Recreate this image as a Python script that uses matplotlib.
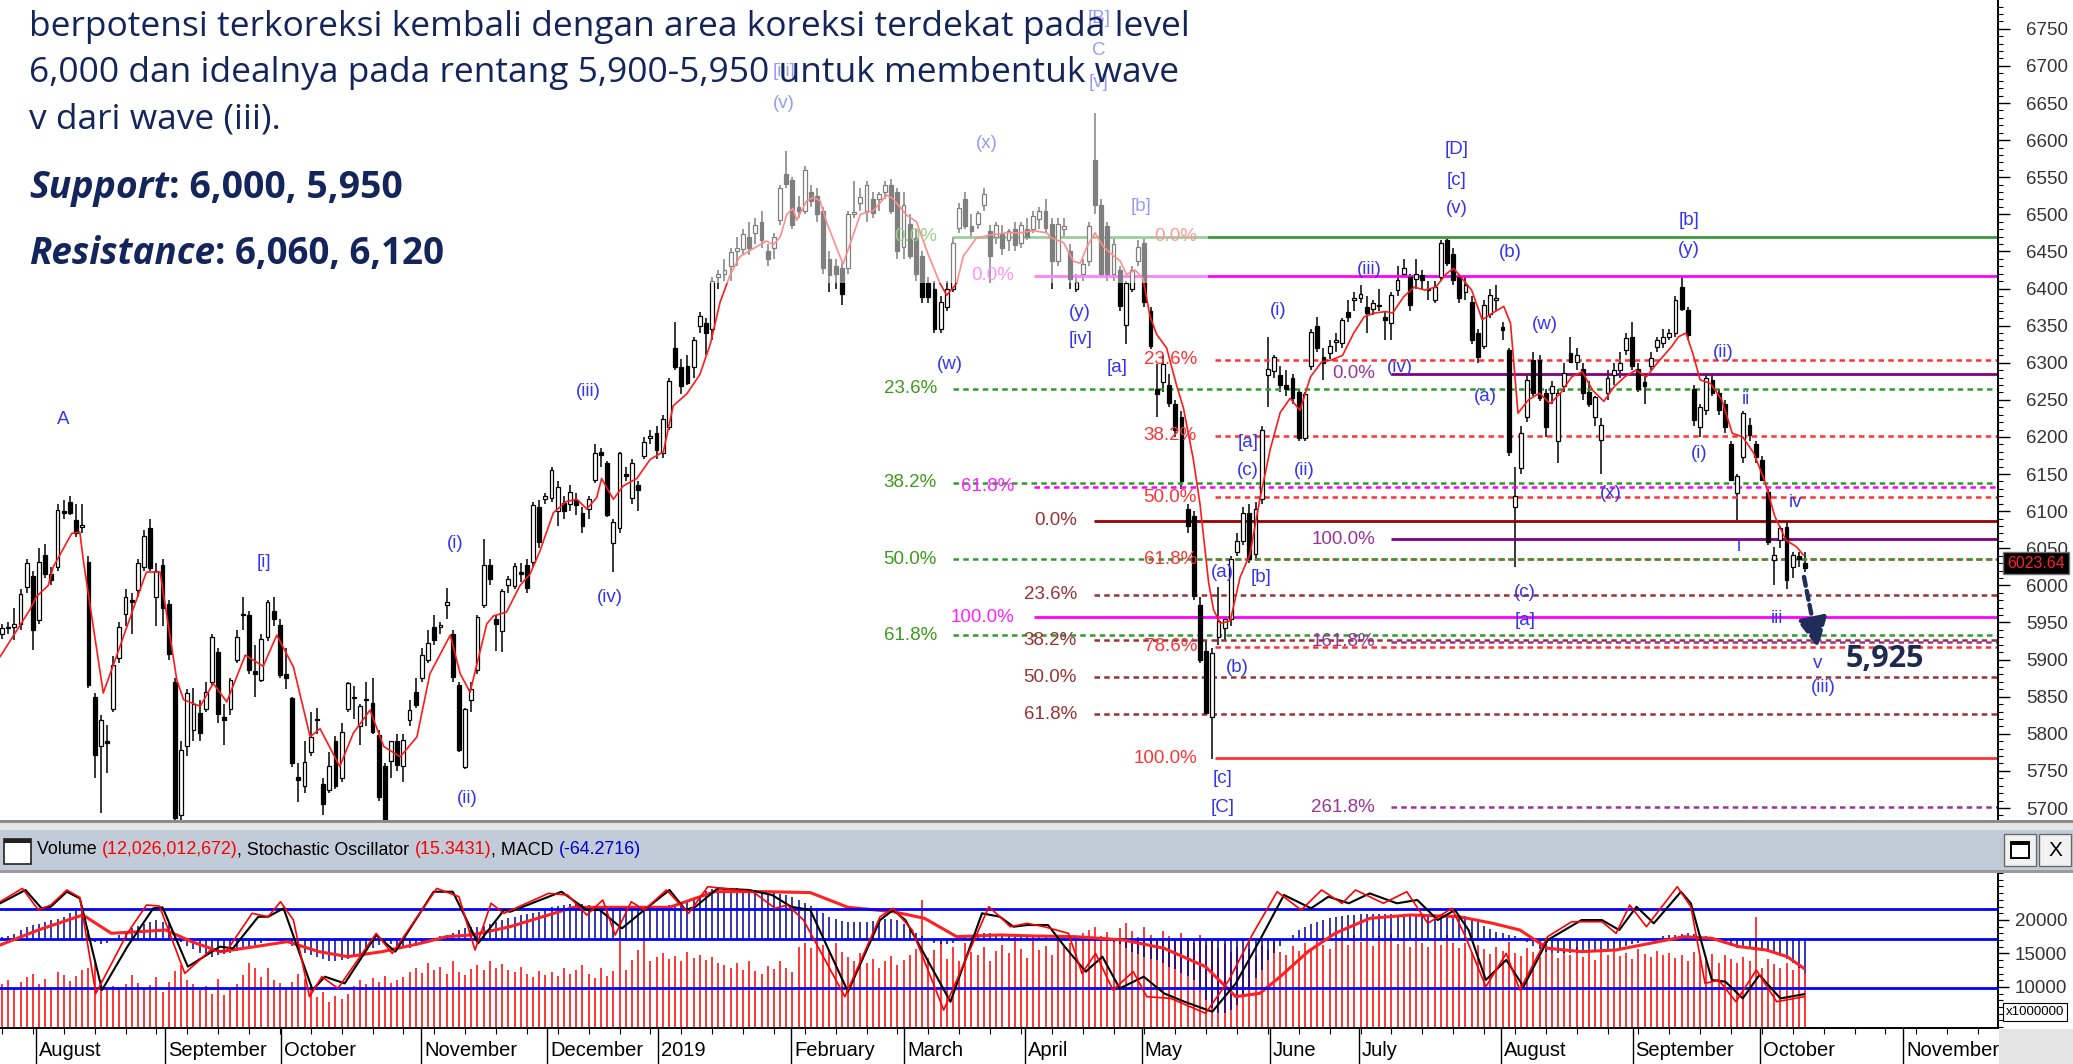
import numpy as np
import matplotlib
matplotlib.use("Agg")
import matplotlib.pyplot as plt
import matplotlib.transforms as mtransforms
from matplotlib.patches import Rectangle
from matplotlib.ticker import MultipleLocator

plt.rcParams['font.family'] = ['Liberation Sans', 'DejaVu Sans']

# ======================= DATA =======================
opens = [
5935,5942,5944,5948,5998,6012,5953,6041,6016,6025,
6100,6112,6088,6078,6032,5850,5783,5790,5834,5902,
5962,5980,5994,6025,6077,5985,6027,5975,5870,5690,
5783,5805,5828,5834,5870,5910,5822,5834,5900,5960,
5960,5885,5873,5931,5965,5946,5880,5848,5742,5729,
5775,5820,5733,5724,5790,5740,5834,5850,5810,5845,
5841,5798,5756,5763,5790,5756,5819,5857,5875,5900,
5944,5944,5974,5935,5866,5755,5845,5886,5974,6028,
5955,5938,6000,5999,6018,6028,6031,6106,6116,6118,
6100,6111,6110,6115,6098,6103,6142,6180,6165,6057,
6077,6150,6118,6135,6175,6198,6206,6178,6214,6320,
6294,6296,6294,6350,6353,6345,6415,6420,6430,6450,
6453,6470,6475,6490,6450,6455,6492,6554,6546,6510,
6505,6530,6525,6505,6440,6430,6428,6428,6500,6515,
6505,6520,6520,6530,6540,6530,6456,6487,6468,6444,
6407,6400,6345,6375,6400,6481,6521,6484,6487,6512,
6478,6470,6475,6465,6480,6462,6480,6480,6494,6505,
6487,6437,6480,6450,6400,6420,6437,6573,6512,6484,
6420,6425,6351,6400,6437,6462,6370,6264,6274,6270,
6245,6227,6103,6094,5974,5912,5822,5930,5943,5955,
6045,6060,6097,6042,6116,6283,6289,6283,6270,6280,
6261,6199,6295,6350,6308,6313,6328,6326,6369,6385,
6387,6375,6373,6378,6362,6353,6398,6420,6416,6413,
6418,6400,6385,6416,6465,6447,6416,6395,6382,6340,
6322,6366,6385,6348,6317,6106,6158,6227,6304,6304,
6259,6259,6194,6268,6313,6301,6292,6261,6227,6196,
6259,6283,6290,6317,6335,6292,6274,6295,6321,6326,
6335,6340,6402,6371,6265,6214,6236,6277,6259,6245,
6191,6124,6173,6216,6191,6169,6126,6034,6061,6079,
6025,6040,6030]
highs = [
5948,5950,5970,5995,6035,6020,6050,6056,6025,6110,
6115,6120,6110,6110,6040,5855,5825,5812,5905,5950,
5995,5990,6035,6075,6090,6030,6035,5980,5875,5790,
5860,5862,5845,5870,5935,5915,5840,5875,5940,5985,
5965,5920,5935,5980,5985,5955,5915,5850,5760,5790,
5830,5835,5740,5775,5797,5815,5870,5865,5840,5870,
5875,5805,5760,5790,5800,5800,5845,5875,5915,5940,
5960,5950,5997,5940,5870,5835,5870,5960,6062,6035,
5960,5995,6012,6030,6030,6035,6112,6115,6125,6160,
6140,6120,6135,6125,6105,6120,6190,6185,6168,6090,
6180,6160,6170,6140,6200,6210,6215,6230,6280,6355,
6305,6310,6335,6368,6360,6415,6425,6440,6455,6470,
6480,6490,6495,6505,6460,6475,6540,6585,6550,6525,
6565,6540,6535,6510,6450,6440,6435,6505,6545,6535,
6545,6530,6530,6545,6548,6535,6530,6500,6480,6450,
6415,6410,6390,6410,6470,6515,6530,6500,6505,6535,
6485,6490,6485,6480,6490,6490,6495,6505,6510,6520,
6495,6495,6495,6460,6420,6440,6490,6636,6520,6490,
6470,6430,6410,6430,6465,6470,6375,6298,6310,6285,
6250,6235,6110,6100,5985,5925,5915,5998,5955,6040,
6070,6105,6110,6112,6215,6335,6310,6295,6290,6285,
6265,6260,6345,6362,6320,6330,6340,6360,6385,6395,
6405,6390,6385,6400,6370,6395,6430,6440,6420,6440,
6425,6410,6410,6465,6470,6455,6420,6415,6390,6345,
6385,6400,6405,6355,6320,6160,6215,6285,6315,6310,
6265,6275,6265,6300,6335,6320,6300,6275,6255,6225,
6290,6300,6315,6340,6355,6300,6285,6315,6335,6345,
6345,6390,6416,6375,6270,6245,6285,6285,6265,6250,
6195,6150,6235,6225,6195,6175,6130,6052,6080,6085,
6045,6045,6045]
lows = [
5928,5935,5926,5940,5990,5913,5948,6010,6000,6020,
6090,6095,6065,6070,5862,5740,5693,5747,5830,5895,
5945,5935,5985,6020,6020,5945,5945,5900,5684,5683,
5770,5790,5790,5830,5865,5815,5785,5825,5895,5940,
5880,5850,5870,5925,5945,5875,5860,5755,5708,5720,
5770,5800,5690,5720,5725,5735,5830,5820,5785,5810,
5800,5710,5684,5740,5750,5735,5810,5835,5870,5895,
5920,5935,5955,5870,5775,5752,5830,5880,5970,6000,
5912,5910,5990,5995,6005,5990,6025,6050,6110,6112,
6080,6090,6100,6095,6070,6090,6138,6160,6092,6018,
6070,6140,6110,6100,6170,6190,6170,6172,6210,6290,
6258,6270,6280,6340,6310,6330,6400,6410,6410,6430,
6445,6445,6460,6455,6430,6440,6485,6535,6480,6495,
6500,6510,6490,6420,6395,6400,6378,6420,6495,6505,
6490,6495,6505,6520,6500,6440,6440,6440,6410,6380,
6380,6340,6340,6370,6395,6475,6480,6470,6480,6505,
6407,6460,6445,6450,6450,6455,6465,6475,6480,6475,
6400,6430,6470,6400,6395,6410,6430,6500,6415,6410,
6410,6370,6325,6395,6430,6375,6318,6227,6260,6240,
6200,6130,6070,5980,5895,5826,5766,5920,5925,5945,
6040,6055,6030,6035,6110,6240,6280,6260,6255,6245,
6195,6195,6290,6315,6277,6305,6315,6320,6355,6370,
6380,6340,6365,6370,6330,6330,6390,6415,6370,6400,
6400,6385,6380,6410,6430,6405,6380,6385,6325,6300,
6318,6360,6370,6330,6175,6025,6150,6220,6255,6248,
6200,6245,6165,6260,6300,6290,6250,6240,6215,6150,
6250,6270,6280,6310,6290,6260,6245,6290,6315,6320,
6330,6335,6370,6330,6215,6200,6230,6255,6230,6205,
6140,6088,6165,6195,6165,6140,6055,6000,6050,5995,
6010,6025,6018]
closes = [
5942,5944,5948,5989,6030,5940,6032,6016,6007,6102,
6097,6098,6070,6082,5866,5771,5819,5788,5893,5944,
5985,5978,6030,6066,6023,6020,5969,5908,5686,5778,
5855,5840,5801,5857,5931,5827,5819,5872,5931,5962,
5886,5880,5928,5978,5955,5879,5875,5760,5738,5762,
5796,5818,5706,5756,5729,5803,5868,5848,5838,5847,
5803,5715,5684,5790,5758,5792,5832,5839,5906,5922,
5926,5946,5977,5877,5778,5834,5860,5958,6028,6008,
5948,5992,6008,6026,6015,5997,6108,6059,6120,6155,
6133,6100,6126,6108,6080,6116,6178,6176,6095,6085,
6178,6148,6165,6129,6193,6201,6183,6224,6276,6294,
6268,6273,6330,6363,6340,6410,6420,6425,6449,6455,
6474,6455,6485,6465,6440,6470,6536,6541,6485,6505,
6560,6518,6500,6428,6418,6420,6392,6500,6503,6523,
6540,6502,6528,6540,6505,6450,6512,6444,6419,6388,
6388,6345,6382,6400,6462,6508,6484,6478,6502,6527,
6444,6485,6455,6477,6458,6485,6470,6498,6505,6482,
6437,6487,6484,6413,6409,6433,6484,6512,6419,6420,
6460,6376,6407,6425,6456,6382,6323,6258,6298,6246,
6210,6140,6080,5986,5899,5828,5909,5952,5955,6035,
6060,6097,6035,6103,6209,6292,6308,6270,6265,6252,
6199,6258,6342,6320,6299,6322,6330,6357,6362,6387,
6393,6367,6380,6376,6357,6391,6411,6427,6378,6420,
6411,6398,6402,6461,6434,6411,6387,6405,6331,6308,
6378,6391,6387,6344,6180,6120,6205,6277,6259,6252,
6214,6268,6259,6286,6301,6310,6259,6245,6254,6216,
6279,6290,6300,6333,6295,6265,6268,6306,6330,6335,
6340,6385,6373,6337,6223,6241,6279,6259,6236,6214,
6142,6147,6232,6202,6173,6142,6059,6041,6077,6007,
6041,6036,6024]

# short moving average drawn on the price (red)
ma_x = [-0.3,4.5,5.6,7.5,8.3,11.3,12.6,13.2,16.4,18.3,22.9,23.4,25.6,28.3,29.4,32.1,34.2,36.4,39.4,42.3,
        44.5,47.2,49.9,51.5,54.7,56.9,59.6,61.8,64.5,67.2,69.3,72.6,74.2,75.8,78.5,79.6,81.7,83.9,85.5,87.1,
        89.3,91.4,93.1,94.7,96.3,97.1,99,100.6,102.8,105,107.1,108.7,110.9,113,114.7,116.3,117.9,119.5,121.7,123.8,
        124.9,126,127.1,128.1,128.7,130.3,131.4,132.5,133.5,136.2,137.3,139,141.1,143.3,144.3,146.5,148.1,149.8,151.9,153,
        154.6,155.7,157.8,160,162.7,164.9,167,169.2,170,171.9,173.5,174.6,175.7,177,178.4,180,181.1,182.1,183.5,184.8,
        185.9,187,188.6,190.2,191.3,192.9,194,195.4,196.2,197.3,198.9,200.5,202.1,203.7,205.4,207,208.6,210.2,211.9,213.7,
        215.4,217.1,218.9,220.6,222.3,224.1,225.2,227,228.7,230.4,232.2,233.9,235.1,236.2,238,239.7,241.4,243.2,244.3,245.5,
        247.2,249,250.7,252.4,254.2,255.9,257.6,259.4,261.1,262.8,264.6,266.3,268,270.4,271.5,272.7,273.8,275,276.7,278.5,
        280.2,281.9,283.7,285.4,287.1,288.9,290.6,291.7]
ma_y = [5904,5967,5985,6000,6025,6070,6072,6032,5855,5899,6007,6018,6018,5873,5846,5837,5868,5843,5906,5891,
        5933,5890,5796,5807,5756,5801,5832,5783,5769,5796,5881,5933,5881,5856,5948,5959,5964,6000,6015,6046,
        6098,6113,6116,6103,6118,6144,6116,6134,6144,6170,6180,6242,6258,6284,6325,6382,6418,6443,6454,6464,
        6459,6469,6500,6508,6492,6518,6523,6518,6490,6433,6459,6500,6505,6526,6521,6499,6490,6450,6407,6391,
        6407,6444,6468,6472,6475,6475,6478,6475,6468,6462,6437,6434,6456,6475,6456,6444,6437,6419,6425,6413,
        6363,6338,6320,6270,6240,6171,6110,6004,5967,5949,5952,6011,6042,6116,6184,6233,6252,6236,6281,6301,
        6304,6310,6340,6362,6367,6369,6367,6389,6402,6398,6402,6420,6427,6416,6398,6358,6367,6376,6353,6232,
        6250,6259,6245,6259,6281,6288,6263,6248,6268,6281,6290,6281,6299,6322,6335,6340,6313,6277,6272,6250,
        6205,6200,6178,6142,6093,6061,6052,6041]

# volume, millions of shares
volume_m = [
10500,11000,9800,10800,11500,12000,10500,11200,10000,12300,11800,10900,11600,12500,
12800,13500,11000,9500,10200,
9800,10400,11800,10600,9900,10300,11500,9200,10800,12400,13200,11000,
10500,9500,10200,9000,11200,8800,9600,10500,11800,
13500,12800,11500,12900,11000,10600,
10000,10800,12000,11200,10400,
8500,9200,7800,8600,8200,9000,
10200,11000,10500,11300,10800,11700,10600,11000,11500,12300,12800,12100,
13500,12600,13000,12000,13800,12200,11800,12700,13300,12500,13900,12800,13400,12600,
12300,13000,12000,11500,12400,11800,12200,11600,12800,11900,12500,13200,12000,11300,12900,11700,12400,16900,
12600,14000,15500,17000,13800,14500,15000,14200,
14600,13900,15200,14300,14800,14000,14500,13600,
13200,12800,13500,12600,13900,12400,12000,13100,12700,13800,12900,12300,
16000,16500,15800,17000,16200,15500,16600,15200,
14500,13800,15000,13600,14200,12900,13800,14600,13200,14000,
14800,15600,23000,14300,
15500,16800,14200,15900,13800,16500,15200,14700,16000,13900,15400,
16200,15000,17000,15600,14300,16800,15500,16100,14800,17200,15900,16600,17500,18000,
18500,19000,17600,18200,17000,18800,19600,18300,17500,18900,17800,
17000,18400,17600,16800,18000,17300,16500,17700,16200,17100,15800,16400,15200,16000,
14900,15700,14600,16300,15500,16800,15200,14700,16100,15400,16600,15800,17100,16300,15600,
16900,17500,16200,17800,16700,17300,16100,17600,16800,17900,16400,17200,16000,17400,16600,15900,17000,16300,17700,16500,
15800,16600,15200,16300,15600,14900,16000,15400,16700,15100,14600,15800,15200,14400,15600,
15000,14300,15400,14700,15900,14500,15200,14000,15500,14800,15300,14600,15100,14200,15600,14900,14400,15300,14700,15000,
14300,14800,13900,15200,14500,14000,14900,13600,14700,14100,13500,14400,13800,20500,12900,14200,13400,12800,13600,12500,13100,12026]

# MACD (blue histogram), index points
macd = [
3,6,10,17,23,26,29,32,36,38,42,49,54,57,
17,-5,-9,-8,0,8,14,20,24,29,32,36,32,28,
11,-5,-13,-19,-26,-32,-33,-30,-28,-27,-22,-17,-13,-11,
-7,-4,-2,-2,-7,-13,-19,-26,-30,-34,-38,-42,-42,-40,
-38,-33,-28,-22,-16,-11,-8,-9,-13,-16,-17,-13,-9,-3,
2,5,8,12,16,20,23,22,24,28,32,36,39,42,
44,46,48,51,56,59,62,64,66,67,66,63,62,61,
59,57,57,58,59,61,61,60,61,62,63,64,67,69,
73,80,89,93,95,95,95,95,94,93,92,90,88,86,
84,82,78,73,68,62,54,48,42,37,34,32,31,31,
32,34,36,37,38,36,28,20,12,5,-1,-7,-9,-10,
-7,-1,3,7,9,11,11,9,8,7,6,6,4,4,
3,3,2,1,1,0,0,-1,-2,-3,-4,-4,-6,-9,
-17,-24,-28,-33,-38,-39,-44,-52,-57,-64,-70,-77,-92,-114,
-130,-138,-139,-133,-123,-108,-92,-73,-58,-39,-27,-13,-2,8,
17,23,28,32,36,39,42,43,44,45,46,46,46,46,
46,46,45,45,45,44,44,43,42,42,43,44,44,43,
39,32,24,18,14,11,8,5,1,-5,-13,-19,-24,-26,
-27,-27,-27,-27,-26,-25,-24,-23,-20,-18,-16,-13,-9,-7,
-3,0,2,5,7,8,10,11,9,8,5,1,-5,-9,
-13,-16,-17,-19,-20,-22,-24,-27,-32,-38,-45,-55,-64]

# MACD signal (red thick)
signal_x = [-0.3,5.9,13.1,17.7,22.4,26.5,30.7,35.3,41.0,46.2,51.3,56.0,61.6,67.8,72.0,76.1,82.3,88.5,92.6,99.9,
            108.1,115.4,123.6,130.9,137.0,144.3,149.4,154.6,161.6,167.1,173.8,181.6,188.2,194.9,199.8,203.7,207.0,211.5,215.9,221.5,
            228.1,235.9,241.4,245.8,250.3,255.8,261.4,266.9,272.4,276.9,281.3,285.7,289.1,291.8]
signal_y = [-11.2,16.9,45.0,10.7,13.8,16.9,-4.9,-23.6,-14.3,-4.9,-23.6,-33.0,-23.6,-8.0,4.4,7.6,23.1,45.0,59.3,59.3,
            59.3,88.6,88.6,86.8,59.3,51.2,38.7,4.4,7.6,5.7,4.4,-1.8,-17.4,-51.7,-107.8,-101.6,-70.4,-23.6,10.7,38.7,
            45.0,41.9,29.4,16.9,-17.4,-23.6,-20.5,-8.0,4.4,1.3,-14.3,-20.5,-33.0,-54.8]

# Stochastic oscillator %K (black) and %D (red)
stoch_k_x = [-0.3,3.8,6.4,7.9,10.5,12.6,16.2,20.3,24.5,26.0,30.1,35.3,37.4,41.5,43.1,45.6,50.3,52.3,55.5,60.6,
             63.7,69.9,73.0,77.1,81.3,82.3,90.6,94.7,96.8,100.4,104.0,108.1,110.7,112.3,115.9,121.0,124.7,127.8,130.9,137.0,
             142.2,144.3,146.3,153.6,158.7,161.6,163.8,166.0,169.4,172.1,175.5,178.2,181.0,184.9,188.2,191.5,196.0,199.8,203.7,207.6,
             212.0,214.8,218.1,221.5,225.9,229.2,232.5,235.3,237.5,240.3,243.6,246.4,250.3,255.8,259.1,261.9,264.7,267.5,271.9,273.5,
             276.9,279.1,281.9,284.6,288.0,291.8]
stoch_k = [84.3,94.4,80.5,81.7,93.1,88.0,18.5,51.4,80.5,81.2,36.2,51.4,50.1,74.1,74.1,80.5,18.5,28.6,23.5,60.2,
           47.6,93.1,93.1,53.9,79.2,77.9,93.1,79.2,79.2,65.3,79.2,94.4,79.2,81.7,95.6,94.4,90.6,81.7,79.2,17.2,
           71.6,79.2,71.6,9.6,76.7,74.1,66.5,67.8,67.8,51.4,32.4,43.8,19.7,28.6,15.9,9.6,2.0,23.5,56.4,90.6,
           80.5,89.3,84.3,91.8,84.3,86.8,71.6,79.2,64.0,26.1,41.3,21.0,56.4,71.6,71.6,64.0,81.7,69.1,93.1,84.3,
           26.1,24.8,12.1,29.9,12.1,15.3]
stoch_d_x = [-0.3,3.3,5.9,7.9,10.5,12.6,15.2,20.3,23.4,25.5,29.6,33.8,36.3,40.5,43.1,45.1,47.2,49.8,51.8,54.4,
             60.6,63.2,70.4,74.0,76.6,79.2,81.3,88.5,91.6,94.7,97.3,99.3,101.9,104.0,107.6,111.2,114.3,121.6,125.2,127.2,
             129.8,136.5,142.2,144.3,147.4,152.5,159.8,161.6,163.3,166.0,168.8,172.7,174.9,177.1,179.9,183.2,185.4,189.3,194.9,198.7,
             202.6,206.5,210.4,213.7,217.0,219.2,223.7,227.5,230.9,234.8,237.0,240.3,243.6,245.8,250.3,254.2,259.1,261.4,263.6,266.3,
             271.3,273.5,275.8,278.0,280.8,284.1,287.4,291.8]
stoch_d = [85.5,95.6,79.2,83.0,94.4,88.8,15.9,61.5,83.0,82.2,31.1,48.8,47.6,76.7,74.1,85.5,71.6,13.4,28.6,19.7,
           61.5,46.3,95.6,89.3,48.8,84.3,76.7,91.8,90.6,75.4,86.8,60.2,85.5,79.2,94.4,76.7,96.9,93.1,80.5,83.0,
           71.6,13.4,74.1,80.5,64.0,3.3,81.7,74.1,66.5,69.1,66.5,61.5,31.1,46.3,18.5,32.4,13.4,12.1,0.8,26.1,
           61.5,93.1,79.2,94.4,84.3,94.4,84.3,93.1,69.1,80.5,59.0,21.0,46.3,18.5,59.0,70.3,70.3,61.5,83.0,66.5,
           96.9,81.7,23.5,26.1,9.6,33.7,9.6,13.4]

month_labels = ['August','September','October','November','December','2019','February','March',
                'April','May','June','July','August','September','October','November']
month_pos = [5.5,26.4,45.2,67.9,88.3,106.2,127.8,146.1,165.7,184.6,205.3,219.8,242.8,264.1,284.7,307.9]

# Elliott wave labels: (text, bar, price)
wave_labels = [
    ("A", 9.9, 6223), ("[i]", 42.4, 6031), ("(i)", 73.4, 6057), ("(ii)", 75.3, 5713),
    ("(iii)", 94.9, 6261), ("(iv)", 98.5, 5983),
    ("[iii]", 126.6, 6692), ("(v)", 126.6, 6650), ("(x)", 159.5, 6596),
    ("[B]", 177.6, 6764), ("C", 177.6, 6721), ("[v]", 177.6, 6678), ("[b]", 184.5, 6510),
    ("(w)", 153.5, 6297), ("(y)", 174.6, 6368), ("[iv]", 174.6, 6331), ("[a]", 180.6, 6293),
    ("(i)", 206.6, 6371), ("[a]", 201.8, 6193), ("(c)", 201.8, 6155), ("(ii)", 210.9, 6155),
    ("(iii)", 221.4, 6425), ("(iv)", 226.4, 6294), ("(a)", 240.3, 6254),
    ("[D]", 235.6, 6587), ("[c]", 235.6, 6546), ("(v)", 235.6, 6508), ("(b)", 244.2, 6448),
    ("(w)", 249.9, 6351), ("(x)", 260.6, 6124), ("(c)", 246.6, 5990), ("[a]", 246.6, 5953),
    ("[b]", 273.2, 6492), ("(y)", 273.2, 6452), ("(ii)", 278.7, 6314), ("ii", 282.4, 6250),
    ("(i)", 274.8, 6178), ("i", 281.3, 6052), ("iv", 290.4, 6112), ("iii", 287.4, 5956),
    ("v", 294.1, 5895), ("(iii)", 294.9, 5862),
    ("(a)", 197.7, 6017), ("[b]", 203.9, 6011), ("(b)", 200.0, 5890),
    ("[c]", 197.6, 5740), ("[C]", 197.7, 5701),
]

# Fibonacci tools: anchors (0% and 100%) and drawn ratios
fib_sets = [
    dict(p0=6470, p100=5767, levels=[0.0, 23.6, 38.2, 50.0, 61.8, 78.6, 100.0], solid=[100.0], skip_line=[0.0],
         line='#ff3333', text='#ff3333', lab_px=1197, start_px=1215),
    dict(p0=6087, p100=5665, levels=[0.0, 23.6, 38.2, 50.0, 61.8], solid=[0.0], skip_line=[],
         line='#993333', text='#993333', lab_px=1077, start_px=1094, solid_color='#990000'),
    dict(p0=6285, p100=6062, levels=[0.0, 100.0, 161.8, 261.8], solid=[0.0, 100.0], skip_line=[],
         line='#993399', text='#993399', lab_px=1375, start_px=1391, solid_color='#800080'),
    dict(p0=6417, p100=5957, levels=[0.0, 61.8, 100.0], solid=[0.0, 100.0], skip_line=[],
         line='#ff00ff', text='#ff22ff', lab_px=1014, start_px=1034),
    dict(p0=6470, p100=5601, levels=[0.0, 23.6, 38.2, 50.0, 61.8], solid=[0.0], skip_line=[],
         line='#2f9a2f', text='#3d9a1c', lab_px=937, start_px=953, solid_color='#3a9a3a'),
]

target_price = 5925
last_price = closes[-1]

# ======================= LAYOUT =======================
W, H = 2073, 1064
fig = plt.figure(figsize=(W / 100, H / 100), dpi=100)
fig.patch.set_facecolor('white')

AX_R = 1998
MAIN_BOT = 822
LOW_TOP, LOW_BOT = 873, 1028
BAR0_PX, BAR_STEP = 2.0, 6.175
P_TOP, P_PER_PX = 6788.8, 1.3475


def px2bar(px):
    return (px - BAR0_PX) / BAR_STEP


def py2price(py):
    return P_TOP - P_PER_PX * py


def fx(px):
    return px / W


def fy(py):
    return 1 - py / H


XL = (px2bar(0), px2bar(AX_R))
YL = (py2price(MAIN_BOT), P_TOP)

ax = fig.add_axes([0, fy(MAIN_BOT), AX_R / W, MAIN_BOT / H])
ax.set_xlim(*XL)
ax.set_ylim(*YL)
ax.set_facecolor('white')

n = min(len(opens), len(highs), len(lows), len(closes))
idx = np.arange(n)
o = np.array(opens[:n], float); h = np.array(highs[:n], float)
l = np.array(lows[:n], float); c = np.array(closes[:n], float)
up = c >= o
ax.vlines(idx, l, h, color='black', lw=1.1, zorder=2)
lo_b = np.minimum(o, c)
hb = np.abs(c - o)
ax.bar(idx[up], hb[up], bottom=lo_b[up], width=0.62, facecolor='white', edgecolor='black', lw=0.9, zorder=3)
ax.bar(idx[~up], hb[~up], bottom=lo_b[~up], width=0.62, facecolor='black', edgecolor='black', lw=0.9, zorder=3)

m = min(len(ma_x), len(ma_y))
ax.plot(ma_x[:m], ma_y[:m], color='#ff1a1a', lw=1.2, zorder=4)

# Fibonacci lines
for fs in fib_sets:
    rng = fs['p0'] - fs['p100']
    x0 = px2bar(fs['start_px'])
    for lv in fs['levels']:
        p = fs['p0'] - rng * lv / 100.0
        if lv not in fs['skip_line']:
            if lv in fs['solid']:
                ax.plot([x0, XL[1]], [p, p], color=fs.get('solid_color', fs['line']), lw=2.0, zorder=2.5,
                        solid_capstyle='butt')
            else:
                ax.plot([x0, XL[1]], [p, p], color=fs['line'], lw=1.8, ls=(0, (2.2, 1.7)), zorder=2.5)
        ax.text(px2bar(fs['lab_px']), p, f"{lv:.1f}%", color=fs['text'], fontsize=13.5,
                ha='right', va='center', zorder=4)

for s, bx, pr in wave_labels:
    ax.text(bx, pr, s, color='#3535ee', fontsize=13.5, ha='center', va='center', zorder=4)

# projection arrow and target
ax.annotate('', xy=(px2bar(1818), py2price(648)), xytext=(px2bar(1804), py2price(577)),
            arrowprops=dict(arrowstyle='-|>,head_length=0.9,head_width=0.45', lw=3.2, ls=(0, (2, 1.2)),
                            color='#1f2d5a', shrinkA=0, shrinkB=0, mutation_scale=20), zorder=5)
ax.text(px2bar(1885), py2price(659), f"{target_price:,}", color='#1b2a4e', fontsize=22,
        family='Open Sans', weight='bold', ha='center', va='center', zorder=7)

# semi-transparent panel behind the commentary
ov_y = py2price(283)
ax.add_patch(Rectangle((XL[0], ov_y), px2bar(1208) - XL[0], YL[1] - ov_y, facecolor='white',
                       alpha=0.5, edgecolor='none', zorder=6))

# axes styling
for sp in ['top', 'left', 'bottom']:
    ax.spines[sp].set_visible(False)
ax.spines['right'].set_linewidth(1.4)
ax.tick_params(axis='x', bottom=False, labelbottom=False)
ax.yaxis.tick_right()
ax.set_yticks(np.arange(5700, 6751, 50))
ax.yaxis.set_minor_locator(MultipleLocator(10))
ax.tick_params(axis='y', which='major', direction='out', length=8.5, width=1, pad=12,
               labelsize=13.5, labelcolor='#333333')
ax.tick_params(axis='y', which='minor', direction='out', length=3.6, width=0.8)

# last price box
fig.text(fx(2036), fy(563), f"{last_price - 0.36:.2f}", color='#ff2020', fontsize=11.5,
         ha='center', va='center', zorder=10,
         bbox=dict(boxstyle='square,pad=0.25', facecolor='black', edgecolor='#777777', lw=1))

# ---------------- commentary text ----------------
r = fig.canvas.get_renderer()


def tw(s, **kw):
    t = fig.text(0, 0, s, **kw)
    w = t.get_window_extent(renderer=r).width
    t.remove()
    return w


TXT = '#13255a'
body = ["berpotensi terkoreksi kembali dengan area koreksi terdekat pada level",
        "6,000 dan idealnya pada rentang 5,900-5,950 untuk membentuk wave",
        "v dari wave (iii)."]
base = 20
fs_body = base * 1158 / tw(body[0], fontsize=base, family='Open Sans')
for s, yb in zip(body, [36, 82, 128]):
    fig.text(fx(29), fy(yb), s, fontsize=fs_body, family='Open Sans', color=TXT, va='baseline',
             ha='left', zorder=10)


def two_part(a, b, yb, target):
    kwa = dict(family='Open Sans', weight='bold', style='italic')
    kwb = dict(family='Open Sans', weight='bold')
    wa = tw(a + '|', fontsize=base, **kwa) - tw('|', fontsize=base, **kwa)
    wb = tw(b, fontsize=base, **kwb)
    sz = base * target / (wa + wb)
    fig.text(fx(29), fy(yb), a, fontsize=sz, color=TXT, va='baseline', ha='left', zorder=10, **kwa)
    fig.text(fx(29) + wa * sz / base / W, fy(yb), b, fontsize=sz, color=TXT, va='baseline', ha='left',
             zorder=10, **kwb)


two_part("Support", ": 6,000, 5,950", 198, 373)
two_part("Resistance", ": 6,060, 6,120", 264, 415)

# ---------------- separator & header of indicator pane ----------------
def frect(x0, y0, x1, y1, **kw):
    fig.add_artist(Rectangle((fx(x0), fy(y1)), (x1 - x0) / W, (y1 - y0) / H,
                             transform=fig.transFigure, **kw))


frect(0, 820, W, 823, facecolor='#8c8c8c', edgecolor='none', zorder=1)
frect(0, 823, W, 830, facecolor='#e6e6e6', edgecolor='none', zorder=1)
frect(0, 830, W, 870, facecolor='#c2ccd8', edgecolor='none', zorder=1)
frect(0, 870, W, 873, facecolor='#9a9a9a', edgecolor='none', zorder=1)
# small window icon
frect(4, 839, 31, 864, facecolor='white', edgecolor='#222222', lw=1.2, zorder=2)
frect(4, 839, 31, 843, facecolor='#222222', edgecolor='none', zorder=2)
# buttons
frect(2004, 834, 2036, 866, facecolor='#f2f2f2', edgecolor='#6a6a6a', lw=1, zorder=2)
frect(2011, 842, 2029, 858, facecolor='white', edgecolor='black', lw=1.4, zorder=3)
frect(2011, 842, 2029, 845, facecolor='black', edgecolor='none', zorder=3)
frect(2039, 834, 2071, 866, facecolor='#f2f2f2', edgecolor='#6a6a6a', lw=1, zorder=2)
fig.text(fx(2055), fy(850), 'X', fontsize=15, ha='center', va='center', zorder=4)

segs = [("Volume ", 'black'), ("(12,026,012,672)", '#ff0000'), (", Stochastic Oscillator ", 'black'),
        ("(15.3431)", '#ff0000'), (", MACD ", 'black'), ("(-64.2716)", '#0000cc')]
full = ''.join(s for s, _ in segs)
hb_size = 12.5 * 604 / tw(full, fontsize=12.5)
pref = ''
for s, col in segs:
    off = tw(pref + '|', fontsize=hb_size) - tw('|', fontsize=hb_size) if pref else 0
    fig.text(fx(37) + off / W, fy(850), s, fontsize=hb_size, color=col, va='center', ha='left', zorder=4)
    pref += s

# ---------------- indicator pane ----------------
rect_low = [0, fy(LOW_BOT), AX_R / W, (LOW_BOT - LOW_TOP) / H]
axv = fig.add_axes(rect_low, label='vol')
axm = fig.add_axes(rect_low, label='macd')
axs = fig.add_axes(rect_low, label='sto')
for a in (axv, axm, axs):
    a.set_xlim(*XL)
axm.patch.set_visible(False)
axs.patch.set_visible(False)
axv.set_ylim(3866, 27014)
axm.set_ylim(-166.5, 123.5)
axs.set_ylim(-10.35, 107.3)

nv = min(len(volume_m), n)
axv.vlines(np.arange(nv), 0, volume_m[:nv], color='#ff0000', lw=1.1)
nm = min(len(macd), n)
axm.vlines(np.arange(nm), 0, macd[:nm], color='#00009c', lw=1.1)
axm.axhline(0, color='#0000ff', lw=2.0)
axs.axhline(80, color='#0000ff', lw=2.0)
axs.axhline(20, color='#0000ff', lw=2.0)
ns = min(len(signal_x), len(signal_y))
axm.plot(signal_x[:ns], signal_y[:ns], color='#ff2020', lw=2.2)
nk = min(len(stoch_k_x), len(stoch_k))
axs.plot(stoch_k_x[:nk], stoch_k[:nk], color='black', lw=1.5)
nd = min(len(stoch_d_x), len(stoch_d))
axs.plot(stoch_d_x[:nd], stoch_d[:nd], color='#ff0000', lw=1.2)

axm.set_axis_off()
axs.set_axis_off()
for sp in ['top', 'left']:
    axv.spines[sp].set_visible(False)
axv.spines['right'].set_linewidth(1.4)
axv.spines['bottom'].set_linewidth(1.4)
axv.yaxis.tick_right()
axv.set_yticks([10000, 15000, 20000])
axv.yaxis.set_minor_locator(MultipleLocator(1000))
axv.tick_params(axis='y', which='major', direction='out', length=8, width=1, pad=4,
                labelsize=13.5, labelcolor='#333333')
axv.tick_params(axis='y', which='minor', direction='out', length=3.5, width=0.8)
axv.set_xticks(month_pos)
axv.set_xticklabels([])
axv.xaxis.set_minor_locator(MultipleLocator(5))
axv.tick_params(axis='x', which='major', direction='out', length=26, width=1)
axv.tick_params(axis='x', which='minor', direction='out', length=4, width=0.8)
trans = mtransforms.blended_transform_factory(axv.transData, axv.transAxes)
ylab = (LOW_BOT - 1050) / (LOW_BOT - LOW_TOP)
for lbl, pos in zip(month_labels, month_pos):
    axv.text(pos + 0.45, ylab, lbl, transform=trans, ha='left', va='center', fontsize=14.5,
             clip_on=False)

frect(AX_R + 1, LOW_BOT + 1, W, H, facecolor='#e4e4e4', edgecolor='none', zorder=1)
fig.text(fx(2035), fy(1012), 'x1000000', fontsize=9.5, ha='center', va='center', zorder=5,
         bbox=dict(boxstyle='square,pad=0.2', facecolor='white', edgecolor='black', lw=0.8))

fig.savefig('out.png', dpi=100)
